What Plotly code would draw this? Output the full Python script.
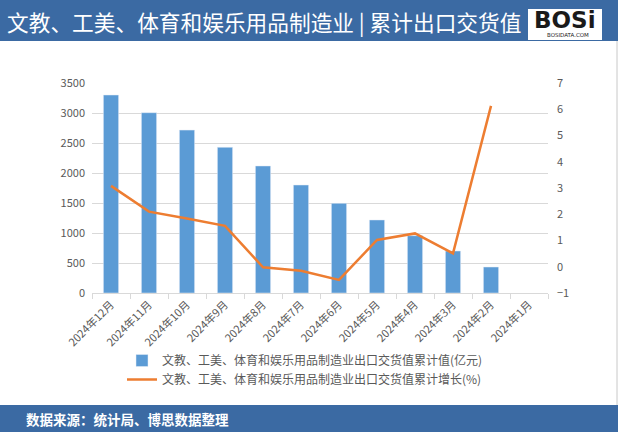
import plotly.graph_objects as go

categories = ["2024年12月", "2024年11月", "2024年10月", "2024年9月", "2024年8月", "2024年7月",
              "2024年6月", "2024年5月", "2024年4月", "2024年3月", "2024年2月", "2024年1月"]
values = [3300, 3005, 2715, 2428, 2117, 1800, 1494, 1217, 955, 700, 433, None]
growth = [3.08, 2.1, 1.84, 1.56, -0.02, -0.15, -0.5, 1.02, 1.27, 0.51, 6.13, None]

bar_name = "文教、工美、体育和娱乐用品制造业出口交货值累计值(亿元)"
line_name = "文教、工美、体育和娱乐用品制造业出口交货值累计增长(%)"
title = "文教、工美、体育和娱乐用品制造业 | 累计出口交货值"
source = "数据来源：统计局、博思数据整理"

FONT = "Noto Sans CJK SC"
BLUE = "#3b6aa3"

# plot area in pixels: x 92..548, y 83..293
L, R, T, B = 92, 548, 83, 293
W, H = R - L, B - T


def px(x):
    return (x - L) / W


def py(y):
    return (B - y) / H


fig = go.Figure()
fig.add_trace(go.Bar(x=categories, y=values, name=bar_name, marker_color="#5b9bd5", yaxis="y"))
fig.add_trace(go.Scatter(x=categories, y=growth, name=line_name, mode="lines",
                         line=dict(color="#ed7d31", width=2.5), yaxis="y2"))

fig.update_layout(
    width=621, height=432,
    margin=dict(l=L, r=621 - R, t=T, b=432 - B),
    paper_bgcolor="white", plot_bgcolor="white",
    font=dict(family=FONT, size=11, color="#595959"),
    bargap=0.6,
    showlegend=True,
    legend=dict(orientation="v", x=px(122), xanchor="left", y=py(346), yanchor="top",
                font=dict(size=12, color="#595959"), tracegroupgap=0, itemwidth=30,
                bgcolor="rgba(0,0,0,0)"),
    xaxis=dict(type="category", tickangle=-45, showgrid=False, showline=True,
               linecolor="#d9d9d9", ticks="outside", tickson="boundaries",
               tickcolor="#d9d9d9", ticklen=5, tickfont=dict(size=11)),
    yaxis=dict(range=[0, 3500], dtick=500, showgrid=True, gridcolor="#d9d9d9",
               zeroline=False, tickfont=dict(size=11), ticklabelstandoff=6),
    yaxis2=dict(range=[-1, 7], dtick=1, overlaying="y", side="right", showgrid=False,
                zeroline=False, tickfont=dict(size=11), ticklabelstandoff=8),
    shapes=[
        dict(type="rect", xref="paper", yref="paper", x0=px(0), x1=px(618),
             y0=py(41), y1=py(0), fillcolor=BLUE, line=dict(width=0), layer="below"),
        dict(type="rect", xref="paper", yref="paper", x0=px(0), x1=px(618),
             y0=py(432), y1=py(405), fillcolor=BLUE, line=dict(width=0), layer="below"),
        dict(type="line", xref="paper", yref="paper", x0=px(617), x1=px(617),
             y0=py(405), y1=py(41), line=dict(color="#c8c8c8", width=1)),
        dict(type="rect", xref="paper", yref="paper", x0=px(528), x1=px(602),
             y0=py(40), y1=py(9), fillcolor="white", line=dict(width=0)),
    ],
    annotations=[
        dict(text=title, xref="paper", yref="paper", x=px(5), y=py(22),
             xanchor="left", yanchor="middle", showarrow=False,
             font=dict(family=FONT, size=21.7, color="white")),
        dict(text="<b>BOSi</b>", xref="paper", yref="paper", x=px(565), y=py(20),
             xanchor="center", yanchor="middle", showarrow=False,
             font=dict(family="DejaVu Sans", size=23, color="#1a1a1a")),
        dict(text="BOSIDATA.COM", xref="paper", yref="paper", x=px(568), y=py(35),
             xanchor="center", yanchor="middle", showarrow=False,
             font=dict(family="DejaVu Sans", size=5.5, color="#1a1a1a")),
        dict(text="<b>" + source + "</b>", xref="paper", yref="paper", x=px(24), y=py(419),
             xanchor="left", yanchor="middle", showarrow=False,
             font=dict(family=FONT, size=13.5, color="white")),
    ],
)

fig.write_html("out.html", config={"displayModeBar": False},
               post_script="document.body.style.margin='0';document.body.style.overflow='hidden';")
